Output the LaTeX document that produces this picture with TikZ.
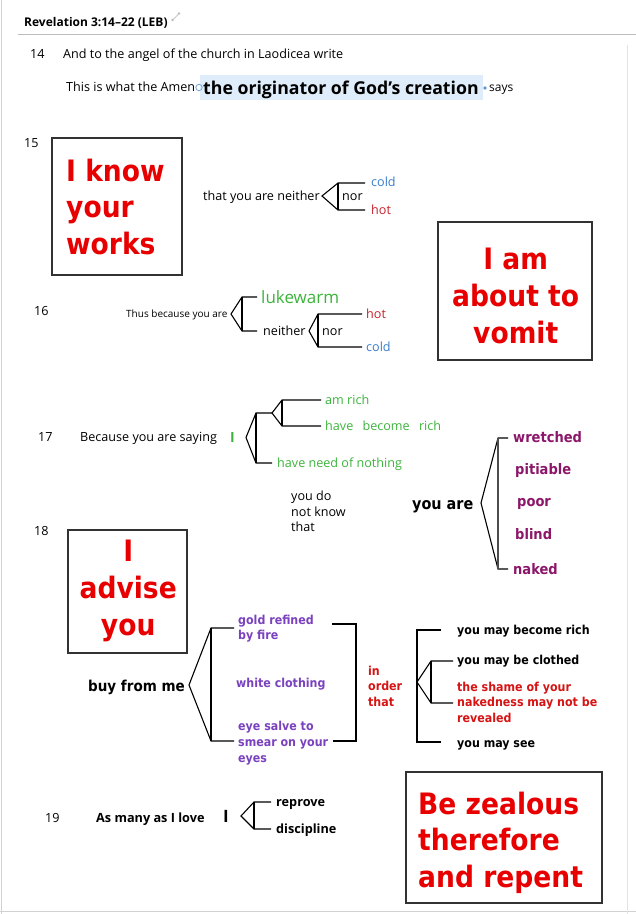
\documentclass[tikz,border=0pt]{standalone}
\usepackage{fontspec}
\setmainfont{Open Sans}
\newfontfamily\vfont{DejaVu Sans}[FakeStretch=0.9]
\definecolor{coldblue}{RGB}{58,125,201}
\definecolor{hotred}{RGB}{200,35,45}
\definecolor{warmgreen}{RGB}{60,180,60}
\definecolor{boxred}{RGB}{232,0,0}
\definecolor{wpurple}{RGB}{140,22,105}
\definecolor{gpurple}{RGB}{122,66,190}
\definecolor{ordred}{RGB}{215,20,20}
\definecolor{hilite}{RGB}{222,237,249}
\definecolor{rulegrey}{RGB}{190,190,190}
\definecolor{paneblue}{RGB}{215,230,242}
\definecolor{boxedge}{RGB}{50,50,50}
\newcommand\lln[1]{\hbox{#1}}
\newcommand\cln[1]{\hbox to 0pt{\hss#1\hss}}
\newcommand\mybrk[7]{%
  \coordinate (#1p) at (#2,#3);
  \coordinate (#1t) at (#4,#5);
  \coordinate (#1b) at (#4,#6);
  \coordinate (#1te) at (#7,#5);
  \coordinate (#1be) at (#7,#6);
  \draw[brk] (#1te) -- (#1t) -- (#1p) -- (#1b) -- (#1be);
  \draw[brk] (#1t) -- (#1b);}
\begin{document}
\begin{tikzpicture}[x=1pt,y=-1pt,
  txt/.style={inner sep=0pt, anchor=base west},
  reg/.style={txt, font=\fontsize{12.6}{15.5}\selectfont},
  smalltxt/.style={txt, font=\fontsize{10}{12}\selectfont},
  hdr/.style={txt, font=\bfseries\fontsize{12}{14}\selectfont},
  semib/.style={txt, font=\bfseries\fontsize{17.7}{20}\selectfont},
  obold/.style={txt, font=\bfseries\fontsize{12.7}{15}\selectfont},
  vbsmall/.style={txt, font=\vfont\bfseries\fontsize{12.3}{15.5}\selectfont},
  vbmid/.style={txt, font=\vfont\bfseries\fontsize{14.5}{17}\selectfont},
  vbbig/.style={txt, font=\vfont\bfseries\fontsize{16}{19}\selectfont},
  bigred/.style={inner sep=0pt, anchor=base west, text=boxred, font=\vfont\bfseries\fontsize{29.5}{36.7}\selectfont},
  brk/.style={line width=1.1pt, black, line join=miter},
  framebox/.style={draw=boxedge, line width=1.2pt},
]
\fill[white] (0,0) rectangle (636,914);
\useasboundingbox (0,0) rectangle (636,914);
% frame lines
\draw[rulegrey!70, line width=0.8pt] (1,0) -- (1,914);
\draw[rulegrey!70, line width=0.8pt] (0,911) -- (636,911);
\draw[paneblue, line width=1pt] (627,45) -- (627,914);
\draw[rulegrey, line width=0.8pt] (18,34) -- (636,34);

% header
\node[hdr] (hdr) at (24,26.3) {Revelation 3:14–22 (LEB)};
\draw[rulegrey, line width=0.7pt] (173,19.5) -- (178.5,14);
\draw[rulegrey, line width=0.6pt] (172.5,20) circle (0.9);
\draw[rulegrey, line width=0.6pt] (179,13.5) circle (0.9);

% verse 14
\node[reg] (v14) at (30,58.6) {14};
\node[reg] (l14) at (63,58.6) {And to the angel of the church in Laodicea write};
\fill[hilite] (200,75) rectangle (483,100);
\node[reg] (amen) at (66,91.6) {This is what the Amen};
\draw[coldblue!70, line width=0.8pt] (199,87.5) circle (3.2);
\node[semib] (orig) at (203,94.5) {the originator of God’s creation};
\fill[coldblue!80] (485,88) circle (1.8);
\node[reg, font=\fontsize{12}{14}\selectfont] (says) at (489,91.6) {says};

% verse 15
\node[reg] (v15) at (24,147.5) {15};
\draw[framebox] (52,138) rectangle (182,275);
\node[bigred] (know) at (66,181) {\vtop{\lln{I know}\lln{your}\lln{works}}};
\node[reg] (neither1) at (203,200.6) {that you are neither};
\mybrk{ba}{322}{196}{338}{183}{210}{365}
\node[reg] (nor1) at (342,200.6) {nor};
\node[reg, text=coldblue] (cold1) at (371,186.6) {cold};
\node[reg, text=hotred] (hot1) at (371,214.6) {hot};
\draw[framebox] (438,222) rectangle (592,360);
\node[bigred] (vomit) at (515,269.6) {\vtop{\cln{I am}\cln{about to}\cln{vomit}}};

% verse 16
\node[reg] (v16) at (34,315.6) {16};
\node[smalltxt] (thus) at (126,317.6) {Thus because you are};
\mybrk{bb}{231}{314}{242}{297}{331}{257}
\node[txt, font=\fontsize{17}{20}\selectfont, text=warmgreen] (luke) at (261,303) {lukewarm};
\node[reg] (neither2) at (263,335.6) {neither};
\mybrk{bc}{309}{331}{318}{314}{347}{362}
\node[reg] (nor2) at (322,335.6) {nor};
\node[reg, text=hotred] (hot2) at (366,318.6) {hot};
\node[reg, text=coldblue] (cold2) at (366,351.6) {cold};

% verse 17
\node[reg] (v17) at (38,441.6) {17};
\node[reg] (saying) at (80,441.6) {Because you are saying};
\node[txt, font=\bfseries\fontsize{14}{16}\selectfont, text=warmgreen] (igreen) at (230,442) {I};
\mybrk{bd}{246}{437.5}{256}{413}{463}{272}
\mybrk{be}{272}{413}{282}{400}{426}{321}
\node[reg, text=warmgreen] (amrich) at (325,404.5) {am rich};
\node[reg, text=warmgreen] (become) at (325,430.5) {have\hspace{6pt} become\hspace{6pt} rich};
\node[reg, text=warmgreen] (need) at (277,467.5) {have need of nothing};
\node[reg] (donot) at (291,500.5) {\vtop{\lln{you do}\lln{not know}\lln{that}}};
\node[vbbig] (youare) at (412,509) {you are};
\coordinate (bfp) at (481,503);
\coordinate (bft) at (498,438);
\coordinate (bfb) at (498,569);
\coordinate (bfte) at (508,438);
\coordinate (bfbe) at (508,569);
\draw[brk] (bfte) -- (bft) -- (bfp) -- (bfb) -- (bfbe);
\draw[line width=1.8pt, black!70] (bft) -- (bfb);
\node[vbmid, text=wpurple] (wretched) at (513,442.2) {wretched};
\node[vbmid, text=wpurple] (pitiable) at (515,474.2) {pitiable};
\node[vbmid, text=wpurple] (poor) at (517,506.2) {poor};
\node[vbmid, text=wpurple] (blind) at (515,539.2) {blind};
\node[vbmid, text=wpurple] (naked) at (513,574.2) {naked};

% verse 18
\node[reg] (v18) at (34,535.6) {18};
\draw[framebox] (68,530) rectangle (187,653);
\node[bigred] (advise) at (127.5,561.6) {\vtop{\cln{I}\cln{advise}\cln{you}}};
\node[txt, font=\vfont\bfseries\fontsize{15}{18}\selectfont] (buy) at (88,691.4) {buy from me};
\mybrk{bg}{189}{685}{211}{628}{741}{234}
\node[vbsmall, text=gpurple] (gold) at (238,624.4) {\vtop{\lln{gold refined}\lln{by fire}}};
\node[vbsmall, text=gpurple] (white) at (236,687.4) {white clothing};
\node[vbsmall, text=gpurple, font=\vfont\bfseries\fontsize{12.3}{16}\selectfont] (salve) at (238,730.4) {\vtop{\lln{eye salve to}\lln{smear on your}\lln{eyes}}};
\coordinate (rbta) at (332,624);
\coordinate (rbtb) at (356,624);
\coordinate (rbba) at (333,741);
\coordinate (rbbb) at (356,741);
\draw[brk] (rbta) -- (rbtb) -- (rbbb) -- (rbba);
\node[vbsmall, text=ordred] (inorder) at (368,675.4) {\vtop{\lln{in}\lln{order}\lln{that}}};
\coordinate (lbta) at (441,630);
\coordinate (lbtb) at (417,630);
\coordinate (lbba) at (441,742);
\coordinate (lbbb) at (417,742);
\draw[brk] (lbta) -- (lbtb) -- (lbbb) -- (lbba);
\mybrk{bh}{417}{682}{431}{661}{703}{453}
\node[vbsmall] (rich) at (457,634.4) {you may become rich};
\node[vbsmall] (clothed) at (457,664.4) {you may be clothed};
\node[vbsmall, text=ordred] (shame) at (457,691.4) {\vtop{\lln{the shame of your}\lln{nakedness may not be}\lln{revealed}}};
\node[vbsmall] (see) at (457,747.4) {you may see};

% verse 19
\draw[framebox] (406,772) rectangle (602,903);
\node[bigred] (zeal) at (418,814) {\vtop{\lln{Be zealous}\lln{therefore}\lln{and repent}}};
\node[reg] (v19) at (45,822.6) {19};
\node[obold] (love) at (96,822.6) {As many as I love};
\node[txt, font=\bfseries\fontsize{17}{19}\selectfont] (ibig) at (223,822) {I};
\mybrk{bi}{241}{816}{254}{802}{829}{271}
\node[obold] (reprove) at (276,806.6) {reprove};
\node[obold] (discipline) at (276,833.6) {discipline};
\end{tikzpicture}
\end{document}
